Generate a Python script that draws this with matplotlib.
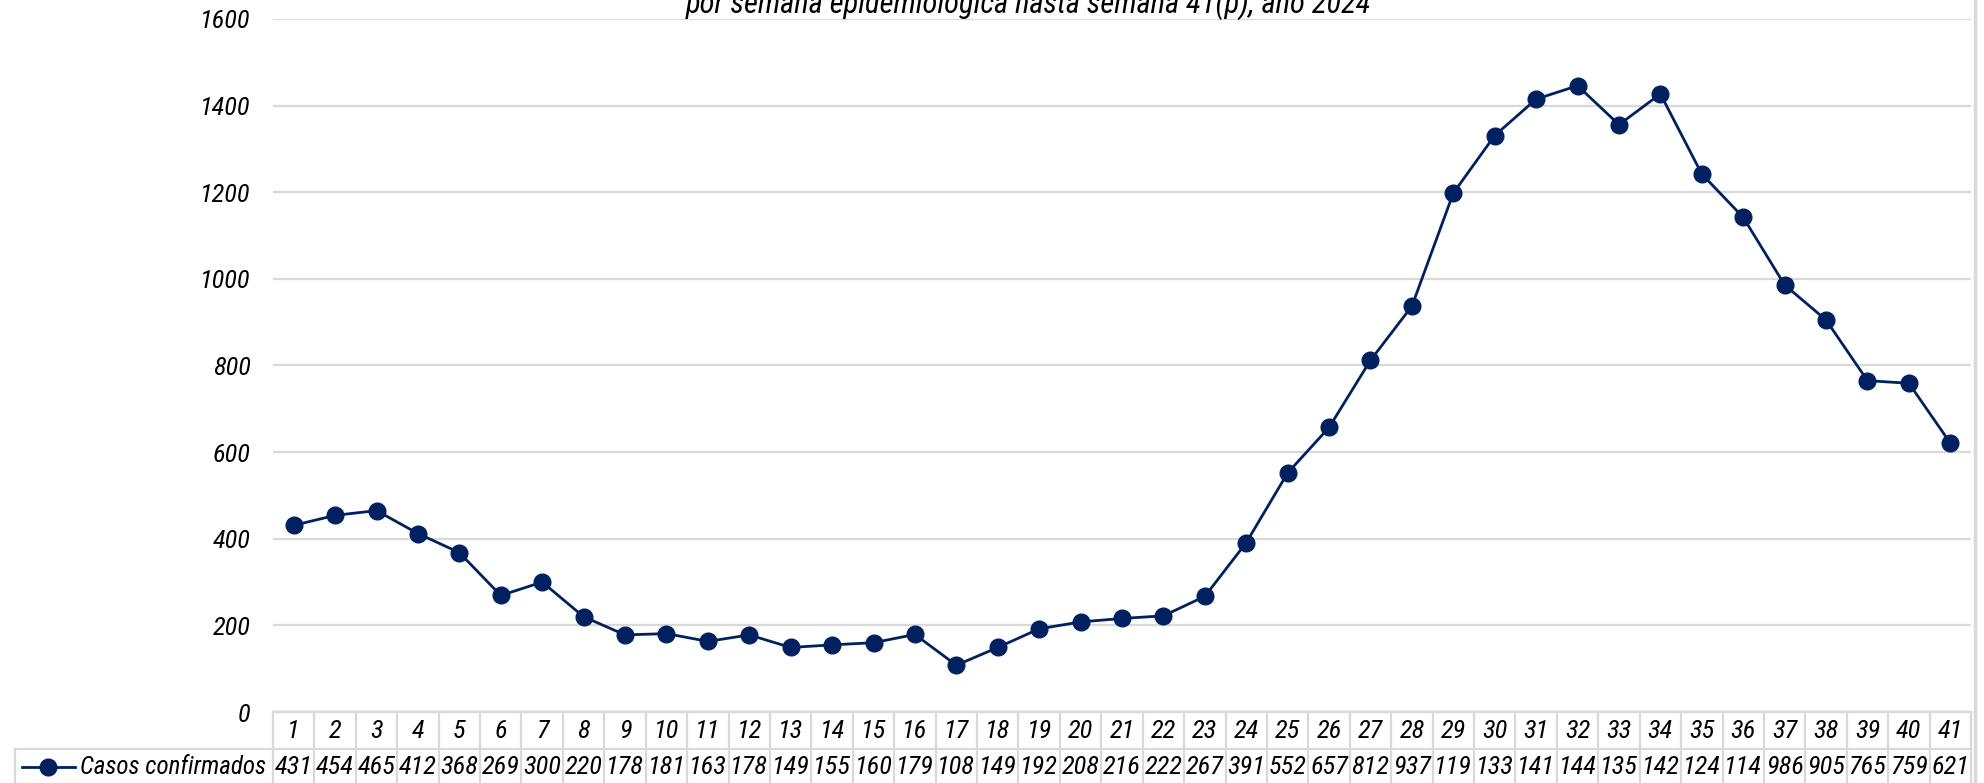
import matplotlib
matplotlib.use("Agg")
import matplotlib.pyplot as plt
import matplotlib.transforms as mtransforms
from matplotlib.lines import Line2D

# datos: casos confirmados por semana epidemiológica
semanas = list(range(1, 42))
casos = [431, 454, 465, 412, 368, 269, 300, 220, 178, 181,
         163, 178, 149, 155, 160, 179, 108, 149, 192, 208,
         216, 222, 267, 391, 552, 657, 812, 937, 1198, 1331,
         1415, 1446, 1356, 1427, 1242, 1142, 986, 905, 765, 759, 621]
serie = "Casos confirmados"
titulo = "por semana epidemiológica hasta semana 41(p), año 2024"
yticks = [0, 200, 400, 600, 800, 1000, 1200, 1400, 1600]

AZUL = "#002060"
GRIS = "#D9D9D9"
W, H = 1984, 783

plt.rcParams['font.family'] = ['Roboto Condensed', 'Archivo Narrow',
                               'IBM Plex Sans Condensed', 'DejaVu Sans']
plt.rcParams['font.style'] = 'italic'
FS = 19

fig = plt.figure(figsize=(W / 100, H / 100), dpi=100)
ax = fig.add_axes([273 / W, (H - 712) / H, (1971 - 273) / W, (712 - 19) / H])

ax.plot(semanas, casos, color=AZUL, linewidth=2, marker='o',
        markersize=12, markerfacecolor=AZUL, markeredgecolor=AZUL, zorder=3)

ax.set_xlim(0.5, len(semanas) + 0.5)
ax.set_ylim(0, 1600)
ax.set_yticks(yticks)
ax.set_yticklabels([str(v) for v in yticks], fontsize=FS)
ax.set_xticks([])
ax.tick_params(axis='y', length=0, pad=16)
ax.yaxis.grid(True, color=GRIS, linewidth=1.6)
ax.set_axisbelow(True)
for s in ax.spines.values():
    s.set_visible(False)


def fy(y):
    return 1 - y / H


# tabla de datos bajo el eje
blend = mtransforms.blended_transform_factory(ax.transData, fig.transFigure)
x0, x1 = 0.5, len(semanas) + 0.5
lw = 1.6
fig.add_artist(Line2D([x0, x1], [fy(712), fy(712)], color=GRIS, lw=lw, transform=blend))
fig.add_artist(Line2D([x0, x1], [fy(749), fy(749)], color=GRIS, lw=lw, transform=blend))
fig.add_artist(Line2D([15 / W, 274 / W], [fy(749), fy(749)], color=GRIS, lw=lw,
                      transform=fig.transFigure))
fig.add_artist(Line2D([15 / W, 15 / W], [fy(749), 0], color=GRIS, lw=lw,
                      transform=fig.transFigure))
for k in range(len(semanas) + 1):
    xe = x0 + k
    fig.add_artist(Line2D([xe, xe], [fy(712), 0], color=GRIS, lw=lw, transform=blend))

for s, v in zip(semanas, casos):
    fig.text(s, fy(731), str(s), transform=blend, ha='center', va='center', fontsize=FS)
    # Excel recorta el texto a lo que cabe en la celda
    fig.text(s, fy(767), str(v)[:3], transform=blend, ha='center', va='center', fontsize=FS)

# leyenda en la tabla
fig.add_artist(Line2D([22 / W, 75 / W], [fy(767), fy(767)], color=AZUL, lw=2,
                      transform=fig.transFigure))
fig.add_artist(Line2D([48 / W], [fy(767)], color=AZUL, marker='o', markersize=12,
                      linestyle='none', transform=fig.transFigure))
fig.text(80 / W, fy(767), serie, ha='left', va='center', fontsize=FS - 1)

# borde derecho del gráfico
fig.add_artist(Line2D([1975 / W, 1975 / W], [0, 1], color=GRIS, lw=2.5,
                      transform=fig.transFigure))

# título (segunda línea, recortada arriba)
fig.text(1028 / W, fy(13), titulo, ha='center', va='baseline', fontsize=22)

fig.savefig("out.png", dpi=100)
